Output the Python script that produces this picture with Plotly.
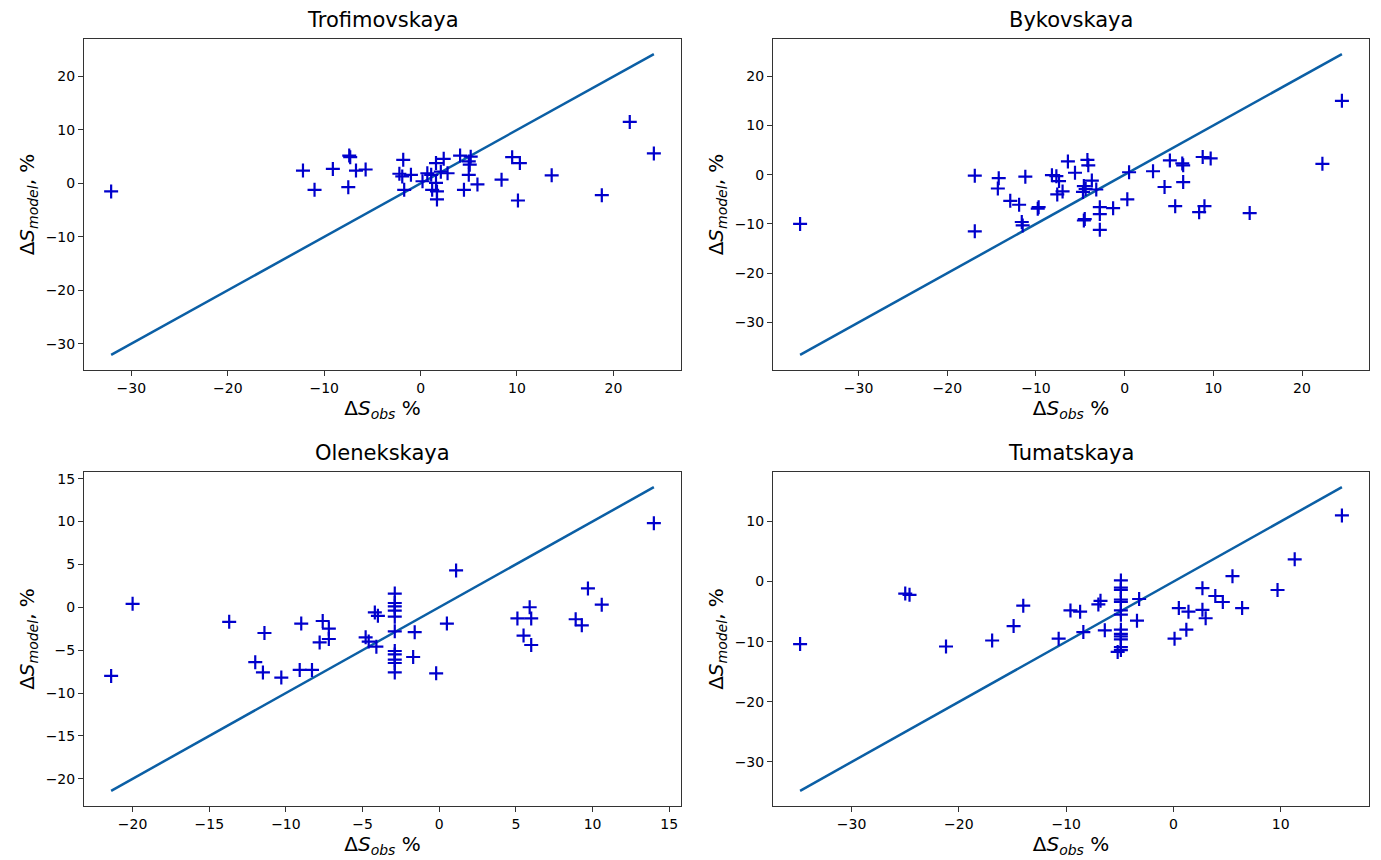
import plotly.graph_objects as go

W, H = 1381, 860

station_names = ["Trofimovskaya", "Bykovskaya", "Olenekskaya", "Tumatskaya"]

# Trofimovskaya
obs_trof = [-32.1, -12.2, -11.0, -9.1, -7.4, -7.3, -7.5, -6.7, -5.7, -1.8, -2.2, -1.9, -1.0, -1.7,
            0.2, 0.7, 1.1, 1.6, 2.4, 2.1, 2.8, 1.6, 1.2, 1.7, 1.7, 4.1, 5.2, 5.0, 5.1, 5.0, 4.5,
            5.9, 8.4, 9.5, 10.3, 10.1, 13.6, 18.8, 21.7, 24.2]
mod_trof = [-1.5, 2.4, -1.2, 2.7, 5.2, 4.9, -0.7, 2.4, 2.6, 4.4, 1.8, 1.3, 1.6, -1.2,
            0.4, 1.9, 1.6, 3.8, 4.6, 2.2, 1.9, 0.1, -1.2, -1.5, -3.0, 5.2, 5.0, 4.1, 3.5, 1.6, -1.2,
            -0.2, 0.7, 4.9, 3.8, -3.2, 1.5, -2.2, 11.5, 5.6]

# Bykovskaya
obs_byk = [-36.6, -16.9, -16.9, -14.2, -14.3, -11.2, -12.9, -11.9, -11.6, -11.5, -9.8, -9.7,
           -8.2, -7.7, -7.4, -7.6, -7.0, -6.4, -5.6, -4.2, -4.1, -3.7, -4.6, -4.4, -4.7, -3.2,
           -2.8, -2.8, -1.3, -4.6, -4.5, -2.8, 0.3, 0.5, 3.2, 5.1, 6.5, 6.6, 6.6, 4.5, 5.7,
           8.8, 9.7, 8.4, 9.0, 14.1, 22.3, 24.5]
mod_byk = [-10.0, -0.2, -11.5, -0.7, -2.8, -0.4, -5.3, -6.1, -9.6, -10.3, -6.9, -6.6,
           -0.1, -0.3, -1.3, -4.0, -3.4, 2.7, 0.4, 3.0, 1.9, -1.2, -2.3, -2.9, -3.5, -3.0,
           -6.6, -8.0, -6.8, -9.3, -9.0, -11.2, -5.0, 0.5, 0.7, 2.9, 2.3, 1.9, -1.5, -2.5, -6.4,
           3.6, 3.3, -7.6, -6.4, -7.8, 2.2, 15.0]

# Olenekskaya
obs_olen = [-21.4, -20.0, -13.7, -12.0, -11.5, -11.4, -10.3, -9.1, -9.0, -8.3, -7.8, -7.6,
            -7.2, -7.2, -4.8, -4.6, -4.1, -4.2, -4.0,
            -2.9, -2.9, -2.9, -2.9, -2.9, -2.9, -2.9, -2.9, -2.9, -2.9, -2.9,
            -1.6, -1.7, -0.2, 0.5, 1.1, 5.1, 5.9, 6.0, 5.5, 6.0, 8.9, 9.3, 9.7, 10.6, 14.0]
mod_olen = [-8.0, 0.4, -1.7, -6.4, -7.6, -3.0, -8.2, -7.3, -1.9, -7.3, -4.1, -1.6,
            -2.5, -3.7, -3.5, -4.0, -4.6, -0.6, -1.0,
            1.6, 0.5, 0.1, -0.4, -1.1, -2.8, -5.1, -5.5, -6.1, -6.5, -7.6,
            -2.9, -5.8, -7.7, -1.9, 4.3, -1.3, 0.0, -1.3, -3.3, -4.4, -1.4, -2.1, 2.2, 0.3, 9.8]

# Tumatskaya
obs_tum = [-34.8, -25.0, -24.6, -21.2, -16.9, -14.9, -14.0, -10.7, -9.6, -8.7, -8.4, -7.0,
           -6.8, -6.4,
           -4.9, -4.9, -4.9, -4.9, -4.9, -4.9, -4.9, -4.9, -4.9, -4.9, -4.9, -4.9, -4.9,
           -5.2, -3.2, -3.4, 0.1, 0.5, 1.4, 1.2, 2.7, 2.7, 3.0, 3.9, 4.6, 5.5, 6.4, 9.7, 11.3, 15.7]
mod_tum = [-10.4, -2.0, -2.2, -10.8, -9.8, -7.4, -4.0, -9.5, -4.8, -5.0, -8.4, -3.8,
           -3.2, -8.1,
           0.2, -1.0, -1.4, -3.0, -3.4, -4.8, -5.5, -8.0, -8.7, -9.1, -9.6, -10.9, -11.4,
           -11.7, -2.9, -6.5, -9.5, -4.4, -5.0, -8.0, -1.1, -4.7, -6.1, -2.4, -3.4, 0.9, -4.4,
           -1.4, 3.7, 11.0]

obs_all = [obs_trof, obs_byk, obs_olen, obs_tum]
mod_all = [mod_trof, mod_byk, mod_olen, mod_tum]
tick_steps = [10, 10, 5, 10]

# panel boxes in pixels: (left, right, top, bottom)
boxes = [(84, 681, 39, 370), (773, 1369, 39, 370), (84, 681, 472, 806), (773, 1369, 472, 806)]

FONT = "DejaVu Sans"
fig = go.Figure()
layout = dict(
    width=W, height=H,
    margin=dict(l=0, r=0, t=0, b=0),
    paper_bgcolor="white", plot_bgcolor="white",
    showlegend=False,
    font=dict(family=FONT, size=14, color="black"),
    annotations=[],
)

for i in range(4):
    obs = obs_all[i]
    mod = mod_all[i]
    xa = "x" if i == 0 else f"x{i+1}"
    ya = "y" if i == 0 else f"y{i+1}"
    lo, hi = min(obs), max(obs)
    fig.add_trace(go.Scatter(x=[lo, hi], y=[lo, hi], mode="lines",
                             line=dict(color="#0b5fa5", width=2.5),
                             xaxis=xa, yaxis=ya, hoverinfo="skip"))
    fig.add_trace(go.Scatter(x=obs, y=mod, mode="markers",
                             marker=dict(symbol="cross-thin", size=10,
                                         line=dict(color="#0000cc", width=2.2)),
                             xaxis=xa, yaxis=ya))
    xmin, xmax = lo, hi
    ymin = min(min(mod), lo)
    ymax = max(max(mod), hi)
    xpad = 0.05 * (xmax - xmin)
    ypad = 0.05 * (ymax - ymin)
    l, r, t, b = boxes[i]
    axcommon = dict(
        showgrid=False, zeroline=False, showline=True, linecolor="#333333", linewidth=1,
        mirror=True, ticks="outside", ticklen=5, tickwidth=1, tickcolor="#333333",
        tickmode="linear", tick0=0, dtick=tick_steps[i],
        tickfont=dict(family=FONT, size=14, color="black"),
        automargin=False,
    )
    key_x = "xaxis" if i == 0 else f"xaxis{i+1}"
    key_y = "yaxis" if i == 0 else f"yaxis{i+1}"
    layout[key_x] = dict(axcommon, domain=[l / W, r / W], anchor=ya,
                         range=[xmin - xpad, xmax + xpad],
                         title=dict(text="Δ<i>S<sub>obs</sub></i> %",
                                    font=dict(family=FONT, size=20, color="black"),
                                    standoff=3))
    layout[key_y] = dict(axcommon, domain=[1 - b / H, 1 - t / H], anchor=xa,
                         range=[ymin - ypad, ymax + ypad],
                         title=dict(text="Δ<i>S<sub>model</sub></i>, %",
                                    font=dict(family=FONT, size=20, color="black"),
                                    standoff=5))
    layout["annotations"].append(dict(
        text=station_names[i], x=(l + r) / 2 / W, y=1 - (t - 19) / H,
        xref="paper", yref="paper", showarrow=False, xanchor="center", yanchor="middle",
        font=dict(family=FONT, size=21, color="black")))

fig.update_layout(**layout)
fig.write_html("out.html")
